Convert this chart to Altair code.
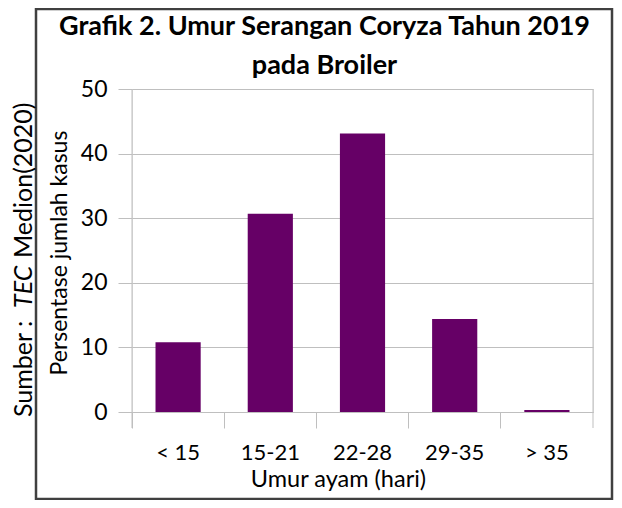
import altair as alt
import pandas as pd

categories = ["< 15", "15-21", "22-28", "29-35", "> 35"]
values = [10.8, 30.7, 43.1, 14.4, 0.3]
y_ticks = [0, 10, 20, 30, 40, 50]

title_lines = ["Grafik 2. Umur Serangan Coryza Tahun 2019", "pada Broiler"]
y_title = "Persentase jumlah kasus"
x_title = "Umur ayam (hari)"
source_parts = ["Sumber :", "TEC", "Medion(2020)"]

FONT = "Lato"
GRID = "#bfbfbf"
BAR = "#660066"
W, H = 461, 323

df = pd.DataFrame({"cat": categories, "val": values})
one = pd.DataFrame({"a": [0]})

bars = alt.Chart(df).mark_bar(color=BAR, width=alt.RelativeBandSize(0.49)).encode(
    x=alt.X("cat:N", sort=categories, title=None,
            scale=alt.Scale(paddingInner=0, paddingOuter=0),
            axis=alt.Axis(labelAngle=0, bandPosition=0, tickSize=16, tickColor=GRID,
                          domainColor=GRID, labelFont=FONT, labelFontSize=22,
                          labelColor="black", labelPadding=14, grid=False)),
    y=alt.Y("val:Q", title=None,
            scale=alt.Scale(domain=[0, 50], nice=False),
            axis=alt.Axis(values=y_ticks, grid=True, gridColor=GRID, tickSize=14,
                          tickColor=GRID, domain=False, labelFont=FONT, labelFontSize=23,
                          labelColor="black", labelPadding=11)),
)

base = alt.Chart(one)
vlines = base.mark_rule(color=GRID, strokeWidth=1).encode(
    x=alt.value(0), y=alt.value(0), y2=alt.value(H + 16))
vlines_r = base.mark_rule(color=GRID, strokeWidth=1).encode(
    x=alt.value(W), y=alt.value(0), y2=alt.value(H + 16))

frame = base.mark_rect(fill=None, stroke="#404040", strokeWidth=2.5).encode(
    x=alt.value(-96), x2=alt.value(480), y=alt.value(-80), y2=alt.value(410))

t1 = base.mark_text(font=FONT, fontSize=27, fontWeight="bold", color="black",
                    align="center", baseline="alphabetic").encode(
    x=alt.value(192.5), y=alt.value(-54), text=alt.value(title_lines[0]))
t2 = base.mark_text(font=FONT, fontSize=27, fontWeight="bold", color="black",
                    align="center", baseline="alphabetic").encode(
    x=alt.value(192.5), y=alt.value(-15), text=alt.value(title_lines[1]))

ytitle = base.mark_text(font=FONT, fontSize=23, color="black", angle=270,
                        align="center", baseline="middle").encode(
    x=alt.value(-72), y=alt.value(164), text=alt.value(y_title))
xtitle = base.mark_text(font=FONT, fontSize=23.5, color="black",
                        align="center", baseline="alphabetic").encode(
    x=alt.value(206.5), y=alt.value(398), text=alt.value(x_title))

s1 = base.mark_text(font=FONT, fontSize=25, color="black", angle=270,
                    align="left", baseline="middle").encode(
    x=alt.value(-108), y=alt.value(328), text=alt.value(source_parts[0]))
s2 = base.mark_text(font=FONT, fontSize=25, fontStyle="italic", color="black", angle=270,
                    align="left", baseline="middle").encode(
    x=alt.value(-108), y=alt.value(219), text=alt.value(source_parts[1]))
s3 = base.mark_text(font=FONT, fontSize=25, color="black", angle=270,
                    align="left", baseline="middle").encode(
    x=alt.value(-108), y=alt.value(169), text=alt.value(source_parts[2]))

chart = alt.layer(frame, bars, vlines, vlines_r, t1, t2, ytitle, xtitle, s1, s2, s3).properties(
    width=W, height=H,
    autosize=alt.AutoSizeParams(type="none"),
    padding={"left": 124, "top": 81, "right": 21, "bottom": 88},
).configure_view(stroke=None).configure(background="white")

chart.save("out.html", embed_options={"renderer": "svg", "actions": False})
